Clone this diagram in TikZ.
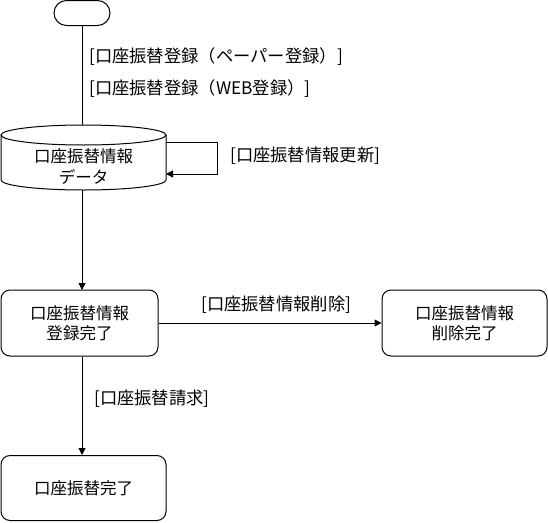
\documentclass[tikz,border=0pt]{standalone}
\usepackage{fontspec}
\setmainfont{Noto Sans CJK JP}
\usetikzlibrary{arrows.meta}
\begin{document}
\begin{tikzpicture}[x=1pt,y=-1pt,
  every node/.style={font=\fontsize{16.5}{20}\selectfont, inner sep=0pt},
  state/.style={draw, line width=1pt, rounded corners=9pt, align=center},
  conn/.style={line width=1pt, -{Triangle[length=7pt,width=7pt]}},
  plain/.style={line width=1pt},
  lbl/.style={anchor=west, font=\fontsize{17.3}{20}\selectfont}]
\useasboundingbox (0,0) rectangle (548,522);
% start
\node[draw, line width=1pt, rounded corners=12.5pt, minimum width=56pt, minimum height=25pt] (start) at (82,13) {};
% cylinder (database)
\draw[line width=1pt, fill=white] (1,135) -- (1,180) arc[start angle=180, end angle=360, x radius=82.5pt, y radius=10pt] -- (166,135);
\draw[line width=1pt] (83.5,135) ellipse[x radius=82.5pt, y radius=10pt];
\node[align=center] (db) at (83.5,167) {口座振替情報\\[1pt]データ};
% states
\node[state, minimum width=157pt, minimum height=66pt] (reg) at (79.5,323) {口座振替情報\\登録完了};
\node[state, minimum width=165pt, minimum height=66pt] (del) at (464.5,323) {口座振替情報\\削除完了};
\node[state, minimum width=165pt, minimum height=65pt] (done) at (83.5,488) {口座振替完了};
% connectors
\draw[plain] (start.south) -- (82,125);
\node[lbl] (l1) at (89,57) {[口座振替登録（ペーパー登録）]};
\node[lbl] (l2) at (89,89) {[口座振替登録（WEB登録）]};
\coordinate (loopA) at (166,142);
\coordinate (loopB) at (217,142);
\coordinate (loopC) at (217,174);
\coordinate (loopD) at (166,174);
\draw[conn] (loopA) -- (loopB) -- (loopC) -- (loopD);
\node[lbl] (l3) at (230,156) {[口座振替情報更新]};
\draw[conn] (82,190) -- (82,290);
\draw[conn] (reg.east) -- (del.west);
\node[lbl] (l4) at (201,305) {[口座振替情報削除]};
\draw[conn] (reg.south -| 82,0) -- (82,455);
\node[lbl] (l5) at (94,399) {[口座振替請求]};
\end{tikzpicture}
\end{document}
